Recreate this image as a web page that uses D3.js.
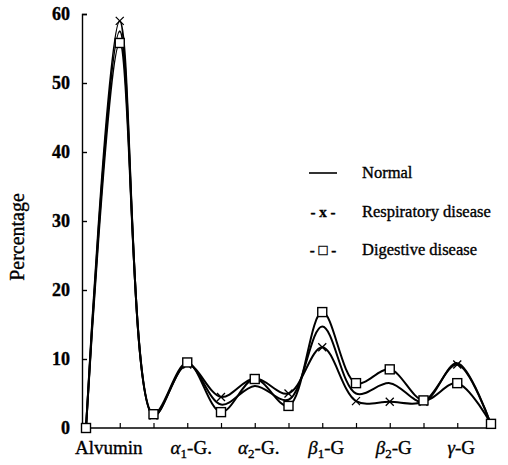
<!DOCTYPE html>
<html>
<head>
<meta charset="utf-8">
<script src="https://cdn.jsdelivr.net/npm/d3@7"></script>
<style>
  body { margin: 0; background: #fff; }
  text { font-family: "Liberation Serif", "DejaVu Serif", serif; fill: #000; stroke: #000; stroke-width: 0.35px; }
</style>
</head>
<body>
<svg id="chart" width="508" height="465"></svg>
<script>
// sample positions along the x axis (peaks at odd ones, valleys at even ones)
var positions = [0, 1, 2, 3, 4, 5, 6, 7, 8, 9, 10, 11, 12];
var normal      = [0, 57.5, 1.8, 9.3, 3.4, 6.1, 4.1, 14.7, 5.0, 6.5, 3.8, 9.4, 0.5];
var respiratory = [0, 59, 1.8, 9.2, 4.5, 7.2, 5.0, 11.7, 3.9, 3.8, 3.8, 9.2, 0.5];
var digestive   = [0, 55.8, 2.0, 9.5, 2.3, 7.1, 3.2, 16.8, 6.5, 8.5, 4.0, 6.5, 0.6];

var categories = [
  { pos: 1, greek: "", sub: "", rest: "Alvumin" },
  { pos: 3, greek: "α", sub: "1", rest: "-G." },
  { pos: 5, greek: "α", sub: "2", rest: "-G." },
  { pos: 7, greek: "β", sub: "1", rest: "-G" },
  { pos: 9, greek: "β", sub: "2", rest: "-G" },
  { pos: 11, greek: "γ", sub: "", rest: "-G" }
];
var yTicks = [0, 10, 20, 30, 40, 50, 60];
var legendNames = ["Normal", "Respiratory disease", "Digestive disease"];
var legendMarks = ["line", "- x -", "- \u25A1 -"];

var svg = d3.select("#chart");

var x = d3.scaleLinear().domain([0, 12]).range([86, 491]);
var y = d3.scaleLinear().domain([0, 60]).range([428, 14]);

// y axis, ticks point inward
var yAxis = svg.append("g")
  .attr("transform", "translate(82,0)")
  .call(d3.axisLeft(y).tickValues(yTicks).tickSize(-5).tickPadding(12));
yAxis.select(".domain").attr("stroke-width", 1.4);
yAxis.selectAll(".tick line").attr("stroke-width", 1.4);
yAxis.selectAll("text")
  .attr("font-size", "18px")
  .attr("font-family", "Liberation Serif")
  .attr("font-weight", "bold");

// x axis with small upward ticks
var xAxis = svg.append("g")
  .attr("transform", "translate(0,428)")
  .call(d3.axisBottom(x).tickValues(positions).tickSize(-5).tickFormat(""));
xAxis.select(".domain").attr("d", "M82,0H493").attr("stroke-width", 1.4);
xAxis.selectAll(".tick line").attr("stroke-width", 1.2);

// category labels
var lab = svg.append("g").selectAll("text")
  .data(categories)
  .enter().append("text")
  .attr("x", function(d) { return d.pos === 1 ? x(d.pos) - 11 : x(d.pos) + 4; })
  .attr("y", 454)
  .attr("text-anchor", "middle")
  .attr("font-size", "19px");
lab.append("tspan").attr("font-style", "italic").text(function(d) { return d.greek; });
lab.append("tspan").attr("font-size", "13px").attr("dy", function(d) { return d.sub ? 4 : 0; })
  .text(function(d) { return d.sub; });
lab.append("tspan").attr("dy", function(d) { return d.sub ? -4 : 0; })
  .text(function(d) { return d.rest; });

// y axis title
svg.append("text")
  .attr("transform", "translate(24,237) rotate(-90)")
  .attr("text-anchor", "middle")
  .attr("font-size", "20px")
  .text("Percentage");

var line = d3.line()
  .x(function(d, i) { return x(positions[i]); })
  .y(function(d) { return y(d); })
  .curve(d3.curveCatmullRom.alpha(0.5));

[normal, respiratory, digestive].forEach(function(series) {
  svg.append("path")
    .datum(series)
    .attr("fill", "none")
    .attr("stroke", "#000")
    .attr("stroke-width", 2)
    .attr("d", line);
});

// x markers
svg.append("g").selectAll("path")
  .data(respiratory)
  .enter().append("path")
  .attr("d", function(d, i) {
    var cx = x(positions[i]), cy = y(d), s = 4;
    return "M" + (cx - s) + "," + (cy - s) + "L" + (cx + s) + "," + (cy + s) +
           "M" + (cx - s) + "," + (cy + s) + "L" + (cx + s) + "," + (cy - s);
  })
  .attr("stroke", "#000")
  .attr("stroke-width", 1.3);

// square markers
svg.append("g").selectAll("rect")
  .data(digestive)
  .enter().append("rect")
  .attr("x", function(d, i) { return x(positions[i]) - 4.5; })
  .attr("y", function(d) { return y(d) - 4.5; })
  .attr("width", 9)
  .attr("height", 9)
  .attr("fill", "#fff")
  .attr("stroke", "#000")
  .attr("stroke-width", 1.4);

// legend
var legend = svg.append("g");
legendNames.forEach(function(name, i) {
  var ly = 173 + i * 38.5;
  if (legendMarks[i] === "line") {
    legend.append("line")
      .attr("x1", 309).attr("x2", 337)
      .attr("y1", ly).attr("y2", ly)
      .attr("stroke", "#000").attr("stroke-width", 1.6);
  } else {
    legend.append("text")
      .attr("x", 323).attr("y", ly + 5)
      .attr("text-anchor", "middle")
      .attr("font-size", "15px")
      .attr("font-weight", "bold")
      .attr("xml:space", "preserve")
      .text(legendMarks[i]);
  }
  legend.append("text")
    .attr("x", 362).attr("y", ly + 5)
    .attr("font-size", "16.5px")
    .text(name);
});
</script>
</body>
</html>
